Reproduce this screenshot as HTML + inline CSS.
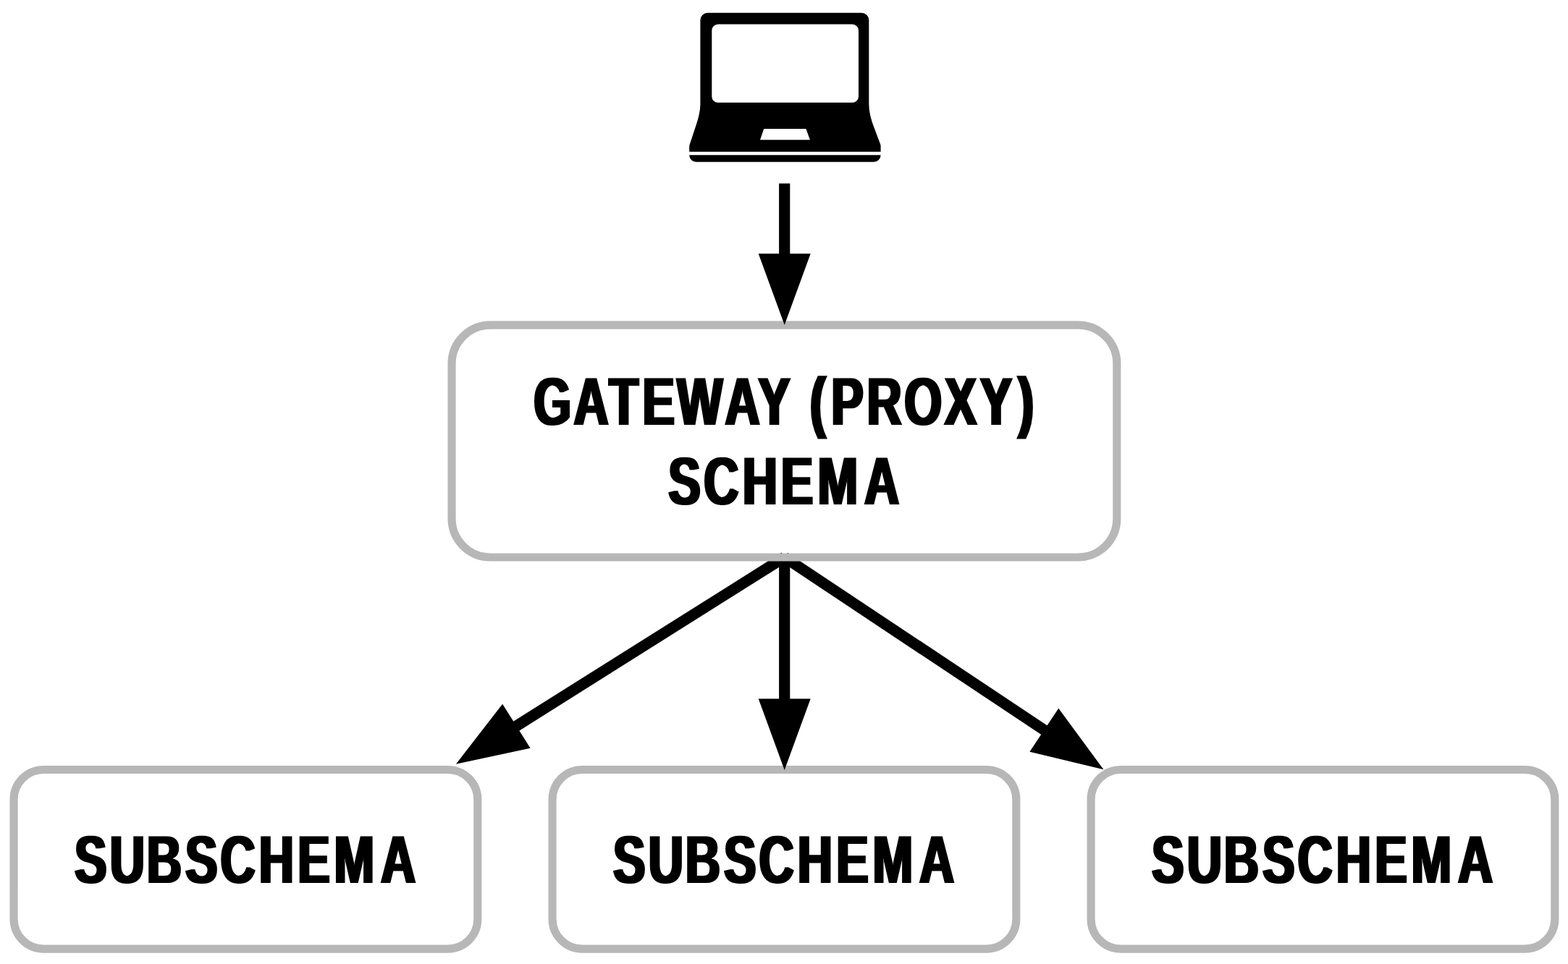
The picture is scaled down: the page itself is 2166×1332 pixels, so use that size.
<!DOCTYPE html>
<html lang="en">
<head>
<meta charset="utf-8">
<style>
html,body{margin:0;padding:0;background:#fff;}
body{width:2166px;height:1332px;overflow:hidden;}
svg{display:block;}
.t{font-family:"Liberation Sans",sans-serif;font-weight:700;fill:#000;text-rendering:geometricPrecision;}
</style>
</head>
<body>
<svg width="2166" height="1332" viewBox="0 0 2166 1332">
<defs>
<filter id="hb" filterUnits="userSpaceOnUse" x="0" y="0" width="2166" height="1332" color-interpolation-filters="sRGB">
<feMorphology in="SourceGraphic" operator="dilate" radius="2 0"/>
</filter>
</defs>
<rect width="2166" height="1332" fill="#fff"/>
<rect x="19.05" y="1063.45" width="640.75" height="247.65" rx="41.3" ry="41.3" fill="#fff" stroke="#b7b7b7" stroke-width="11.15"/>
<rect x="763.05" y="1063.45" width="640.75" height="247.65" rx="41.3" ry="41.3" fill="#fff" stroke="#b7b7b7" stroke-width="11.15"/>
<rect x="1507.05" y="1063.45" width="640.75" height="247.65" rx="41.3" ry="41.3" fill="#fff" stroke="#b7b7b7" stroke-width="11.15"/>
<line x1="1083.7" y1="770" x2="711.65" y2="1004.23" stroke="#000" stroke-width="15.2"/>
<polygon points="629.9,1055.7 694.16,972.7 732.52,1033.63" fill="#000"/>
<line x1="1083.7" y1="770" x2="1083.7" y2="967.4" stroke="#000" stroke-width="15.2"/>
<polygon points="1083.7,1064 1047.7,965.4 1119.7,965.4" fill="#000"/>
<line x1="1083.7" y1="770" x2="1443.98" y2="1009.78" stroke="#000" stroke-width="15.2"/>
<polygon points="1524.4,1063.3 1422.37,1038.64 1462.26,978.7" fill="#000"/>
<rect x="624.05" y="449.05" width="918.75" height="320.95" rx="53.5" ry="53.5" fill="none" stroke="#b7b7b7" stroke-width="11.15"/>
<line x1="1083.7" y1="253.55" x2="1083.7" y2="352.4" stroke="#000" stroke-width="15.2"/>
<polygon points="1083.7,449 1047.7,350.4 1119.7,350.4" fill="#000"/>
<g>
<path fill="#000" d="M977.4,17.7 H1190.3 A10,10 0 0 1 1200.3,27.7 V144 C1200.3,154 1203,164 1206.5,173.8 L1216.2,199.6 Q1216.6,200.8 1216.6,202 V214.3 A9.5,9.5 0 0 1 1207.1,223.8 H961.7 A9.5,9.5 0 0 1 952.2,214.3 V202.4 Q952.2,201.2 952.6,200 L961.3,173.8 C964.5,164 967.4,154 967.4,144 V27.7 A10,10 0 0 1 977.4,17.7 Z"/>
<rect x="983.3" y="33.6" width="202.65" height="108.2" rx="8.6" ry="8.6" fill="#fff"/>
<polygon points="1055.2,177.9 1113.4,177.9 1118.9,193.2 1050,193.2" fill="#fff"/>
<rect x="950" y="209.7" width="269" height="4.55" fill="#fff"/>
</g>

<g filter="url(#hb)">
<text class="t" transform="scale(0.713,1)" x="1034.17 1111.59 1180 1244.7 1311.72 1404.67 1468.87 1519.05 1569.23 1610.49 1679.48 1751.96 1829.85 1898.62 1971.83" y="586.87" font-size="93.6">GATEWAY (PROXY)</text>
<text class="t" transform="scale(0.713,1)" x="1294.84 1363.78 1438.63 1513.07 1584.08 1674.49" y="696.87" font-size="93.6">SCHEMA</text>
<text class="t" transform="scale(0.713,1)" x="144.43 212.92 284.38 359.22 426.93 501.67 576.88 647.44 737.69" y="1219.87" font-size="93.6">SUBSCHEMA</text>
<text class="t" transform="scale(0.713,1)" x="1187.91 1256.4 1327.85 1402.69 1470.41 1545.14 1620.36 1690.92 1781.17" y="1219.87" font-size="93.6">SUBSCHEMA</text>
<text class="t" transform="scale(0.713,1)" x="2231.39 2299.87 2371.33 2446.17 2513.89 2588.62 2663.83 2734.4 2824.65" y="1219.87" font-size="93.6">SUBSCHEMA</text>
</g>
</svg>
</body>
</html>
